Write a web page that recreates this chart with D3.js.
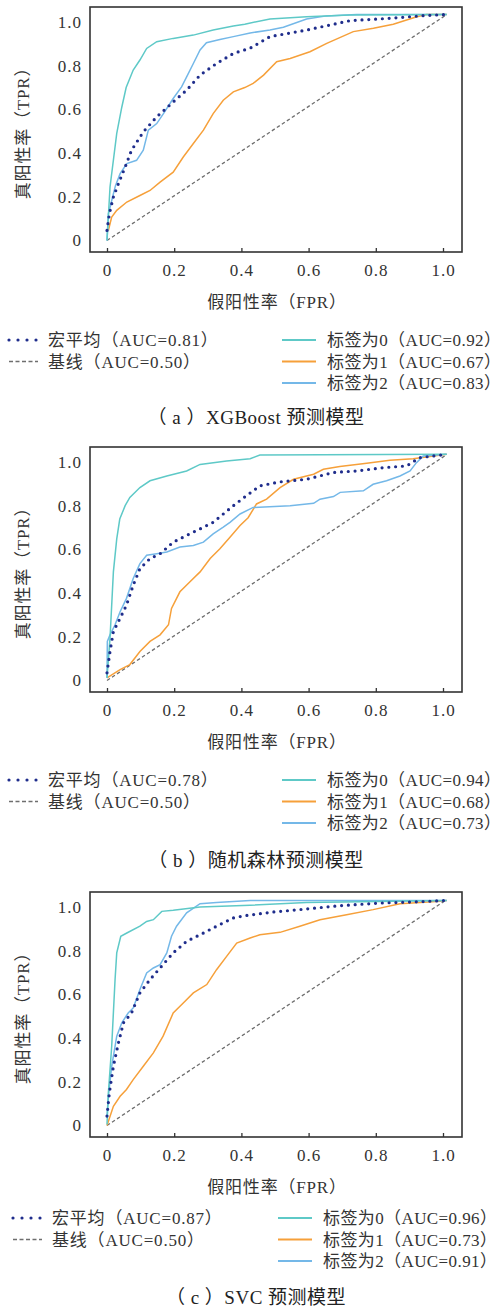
<!DOCTYPE html>
<html>
<head>
<meta charset="utf-8">
<script src="https://cdn.jsdelivr.net/npm/d3@7"></script>
<style>
body { margin: 0; background: #fff; }
svg { display: block; }
</style>
</head>
<body>
<svg id="chart" width="501" height="1309"></svg>
<script>
// axis ticks
var xTicks = [0, 0.2, 0.4, 0.6, 0.8, 1.0];
var yTicks = [0, 0.2, 0.4, 0.6, 0.8, 1.0];
var tickText = ["0", "0.2", "0.4", "0.6", "0.8", "1.0"];

// (a) XGBoost
var xgbLabel0 = [[0,0],[0.009,0.245],[0.029,0.49],[0.044,0.61],[0.057,0.70],[0.078,0.78],[0.098,0.826],[0.118,0.879],[0.148,0.91],[0.197,0.925],[0.257,0.94],[0.316,0.963],[0.376,0.982],[0.41,0.99],[0.485,1.014],[0.594,1.024],[0.723,1.032],[1.011,1.034]];
var xgbLabel1 = [[0.004,0.046],[0.014,0.107],[0.029,0.138],[0.059,0.176],[0.098,0.206],[0.128,0.229],[0.158,0.267],[0.197,0.313],[0.227,0.382],[0.257,0.444],[0.287,0.505],[0.316,0.581],[0.346,0.642],[0.376,0.68],[0.41,0.70],[0.435,0.719],[0.466,0.757],[0.505,0.818],[0.545,0.833],[0.604,0.864],[0.654,0.902],[0.733,0.956],[0.793,0.971],[0.852,0.99],[0.922,1.024],[0.951,1.034],[1.011,1.034]];
var xgbLabel2 = [[0,0],[0.004,0.122],[0.014,0.183],[0.025,0.25],[0.039,0.306],[0.059,0.352],[0.088,0.367],[0.108,0.413],[0.123,0.505],[0.148,0.535],[0.168,0.581],[0.197,0.65],[0.222,0.703],[0.237,0.749],[0.257,0.81],[0.277,0.872],[0.296,0.905],[0.336,0.92],[0.376,0.933],[0.426,0.95],[0.485,0.963],[0.525,0.976],[0.594,1.014],[0.654,1.028],[0.743,1.034],[1.011,1.034]];
var xgbMacro = [[0,0.046],[0.007,0.122],[0.019,0.199],[0.034,0.26],[0.054,0.336],[0.073,0.413],[0.108,0.497],[0.148,0.566],[0.197,0.634],[0.237,0.688],[0.277,0.757],[0.326,0.81],[0.376,0.856],[0.426,0.88],[0.485,0.933],[0.594,0.963],[0.723,1.006],[0.842,1.017],[0.951,1.03],[1.011,1.034]];
var xgbAuc = [0.81, 0.50, 0.92, 0.67, 0.83];

// (b) 随机森林
var rfLabel0 = [[0,0.012],[0.009,0.194],[0.019,0.497],[0.029,0.648],[0.038,0.739],[0.054,0.80],[0.068,0.838],[0.098,0.883],[0.128,0.914],[0.178,0.936],[0.237,0.959],[0.277,0.989],[0.356,1.005],[0.426,1.015],[0.455,1.032],[1.011,1.035]];
var rfLabel1 = [[0,0.012],[0.039,0.05],[0.068,0.073],[0.098,0.133],[0.128,0.179],[0.158,0.209],[0.183,0.255],[0.192,0.33],[0.217,0.406],[0.247,0.452],[0.277,0.497],[0.307,0.558],[0.336,0.603],[0.366,0.656],[0.396,0.709],[0.42,0.745],[0.445,0.808],[0.475,0.83],[0.515,0.883],[0.555,0.921],[0.615,0.944],[0.644,0.967],[0.693,0.979],[0.773,0.994],[0.842,1.008],[0.911,1.015],[1.011,1.035]];
var rfLabel2 = [[0,0.012],[0.001,0.179],[0.009,0.209],[0.024,0.255],[0.039,0.315],[0.058,0.376],[0.078,0.467],[0.098,0.535],[0.118,0.573],[0.148,0.58],[0.178,0.588],[0.217,0.611],[0.257,0.618],[0.287,0.633],[0.316,0.671],[0.346,0.702],[0.366,0.724],[0.396,0.762],[0.435,0.792],[0.545,0.80],[0.615,0.811],[0.634,0.83],[0.674,0.842],[0.694,0.861],[0.763,0.868],[0.792,0.898],[0.832,0.914],[0.872,0.936],[0.902,0.959],[0.921,0.997],[0.941,1.027],[1.011,1.035]];
var rfMacro = [[0,0.035],[0.009,0.133],[0.019,0.224],[0.039,0.285],[0.058,0.345],[0.078,0.436],[0.098,0.512],[0.128,0.558],[0.158,0.58],[0.197,0.633],[0.237,0.664],[0.277,0.694],[0.316,0.724],[0.376,0.80],[0.41,0.84],[0.455,0.891],[0.515,0.909],[0.594,0.921],[0.674,0.952],[0.743,0.959],[0.822,0.974],[0.892,0.982],[0.931,1.02],[1.011,1.035]];
var rfAuc = [0.78, 0.50, 0.94, 0.68, 0.73];

// (c) SVC
var svcLabel0 = [[0,0.005],[0.004,0.149],[0.014,0.363],[0.024,0.668],[0.029,0.79],[0.041,0.866],[0.059,0.881],[0.098,0.912],[0.118,0.934],[0.138,0.942],[0.163,0.98],[0.197,0.985],[0.277,1.0],[0.426,1.008],[0.594,1.021],[1.011,1.03]];
var svcLabel1 = [[0,0],[0.019,0.088],[0.039,0.134],[0.058,0.165],[0.078,0.21],[0.108,0.271],[0.138,0.332],[0.167,0.409],[0.197,0.515],[0.227,0.561],[0.257,0.607],[0.297,0.645],[0.326,0.713],[0.356,0.774],[0.386,0.835],[0.426,0.858],[0.455,0.873],[0.515,0.884],[0.574,0.912],[0.634,0.942],[0.713,0.965],[0.792,0.988],[0.872,1.015],[0.991,1.026],[1.011,1.03]];
var svcLabel2 = [[0,0.043],[0.004,0.134],[0.014,0.271],[0.029,0.409],[0.044,0.47],[0.063,0.515],[0.078,0.538],[0.098,0.622],[0.118,0.698],[0.138,0.721],[0.158,0.736],[0.178,0.79],[0.192,0.866],[0.207,0.912],[0.237,0.973],[0.277,1.015],[0.326,1.021],[0.426,1.03],[1.011,1.03]];
var svcMacro = [[0,0.043],[0.007,0.149],[0.019,0.271],[0.034,0.378],[0.049,0.47],[0.073,0.515],[0.098,0.607],[0.128,0.668],[0.158,0.721],[0.197,0.79],[0.237,0.843],[0.277,0.873],[0.326,0.912],[0.376,0.95],[0.41,0.96],[0.495,0.977],[0.594,0.991],[0.693,1.006],[0.812,1.018],[0.931,1.024],[1.011,1.03]];
var svcAuc = [0.87, 0.50, 0.96, 0.73, 0.91];

// 基线
var baseline = [[0,0],[1.011,1.034]];

var captions = ["（ a ）XGBoost 预测模型", "（ b ）随机森林预测模型", "（ c ）SVC 预测模型"];

var panels = [
    {top: 7, leg: 340, cap: 417, lx: 8, rx: 282, series: [xgbMacro, xgbLabel0, xgbLabel1, xgbLabel2], auc: xgbAuc},
    {top: 447, leg: 780, cap: 860, lx: 8, rx: 282, series: [rfMacro, rfLabel0, rfLabel1, rfLabel2], auc: rfAuc},
    {top: 892, leg: 1218, cap: 1297, lx: 12, rx: 278, series: [svcMacro, svcLabel0, svcLabel1, svcLabel2], auc: svcAuc}
];

var fontFam = '"Liberation Serif", "Times New Roman", "Noto Sans CJK SC", serif';
var cMacro = "#1f2d8c", cBase = "#6e6e6e", c0 = "#5ec9c7", c1 = "#f6a03a", c2 = "#74b8e8";
var svg = d3.select("#chart");

panels.forEach(function(p, i) {
    var g = svg.append("g");
    var x = d3.scaleLinear().domain([0, 1]).range([107, 443]);
    var y = d3.scaleLinear().domain([0, 1]).range([p.top + 233.5, p.top + 15]);
    var line = d3.line().x(function(d) { return x(d[0]); }).y(function(d) { return y(d[1]); });

    // 曲线
    g.append("path").datum(baseline).attr("d", line).attr("fill", "none")
        .attr("stroke", cBase).attr("stroke-width", 1.3).attr("stroke-dasharray", "3.5 2.5");
    g.append("path").datum(p.series[2]).attr("d", line).attr("fill", "none").attr("stroke", c1).attr("stroke-width", 1.5);
    g.append("path").datum(p.series[3]).attr("d", line).attr("fill", "none").attr("stroke", c2).attr("stroke-width", 1.5);
    g.append("path").datum(p.series[1]).attr("d", line).attr("fill", "none").attr("stroke", c0).attr("stroke-width", 1.5);
    g.append("path").datum(p.series[0]).attr("d", line).attr("fill", "none")
        .attr("stroke", cMacro).attr("stroke-width", 3.2).attr("stroke-linecap", "round").attr("stroke-dasharray", "0 6.8");

    // 框
    g.append("rect").attr("x", 90).attr("y", p.top).attr("width", 372).attr("height", 245)
        .attr("fill", "none").attr("stroke", "#333").attr("stroke-width", 1.6);

    var xAxis = g.append("g").attr("transform", "translate(0," + (p.top + 245) + ")")
        .call(d3.axisBottom(x).tickValues(xTicks).tickSize(-4).tickPadding(12)
            .tickFormat(function(d, j) { return tickText[j]; }));
    var yAxis = g.append("g").attr("transform", "translate(90,0)")
        .call(d3.axisLeft(y).tickValues(yTicks).tickSize(0).tickPadding(8)
            .tickFormat(function(d, j) { return tickText[j]; }));
    [xAxis, yAxis].forEach(function(a) {
        a.attr("font-family", fontFam).attr("font-size", 17);
        a.select(".domain").remove();
        a.selectAll("line").attr("stroke", "#333").attr("stroke-width", 1.3);
        a.selectAll("text").attr("fill", "#333").attr("letter-spacing", 1);
    });

    // 轴标题
    g.append("text").attr("x", 277).attr("y", p.top + 301).attr("text-anchor", "middle")
        .attr("font-family", fontFam).attr("font-size", 17).attr("letter-spacing", 0.8).attr("fill", "#333").text("假阳性率（FPR）");
    g.append("text").attr("transform", "translate(29," + (p.top + 122) + ") rotate(-90)").attr("text-anchor", "middle")
        .attr("font-family", fontFam).attr("font-size", 17).attr("letter-spacing", 0.8).attr("fill", "#333").text("真阳性率（TPR）");

    // 图例
    var leftItems = [
        {label: "宏平均（AUC=" + p.auc[0].toFixed(2) + "）", color: cMacro, w: 3.2, dash: "0 9", cap: "round"},
        {label: "基线（AUC=" + p.auc[1].toFixed(2) + "）", color: cBase, w: 1.3, dash: "4 2.5", cap: "butt"}
    ];
    var rightItems = [
        {label: "标签为0（AUC=" + p.auc[2].toFixed(2) + "）", color: c0},
        {label: "标签为1（AUC=" + p.auc[3].toFixed(2) + "）", color: c1},
        {label: "标签为2（AUC=" + p.auc[4].toFixed(2) + "）", color: c2}
    ];
    leftItems.forEach(function(it, k) {
        var yy = p.leg + k * 21.5;
        g.append("line").attr("x1", p.lx + 1).attr("x2", p.lx + 30).attr("y1", yy).attr("y2", yy)
            .attr("stroke", it.color).attr("stroke-width", it.w).attr("stroke-dasharray", it.dash).attr("stroke-linecap", it.cap);
        g.append("text").attr("x", p.lx + 40).attr("y", yy + 6).attr("font-family", fontFam).attr("font-size", 17)
            .attr("letter-spacing", 0.8).attr("fill", "#333").text(it.label);
    });
    rightItems.forEach(function(it, k) {
        var yy = p.leg + k * 21.5;
        g.append("line").attr("x1", p.rx).attr("x2", p.rx + 34).attr("y1", yy).attr("y2", yy)
            .attr("stroke", it.color).attr("stroke-width", 1.8);
        g.append("text").attr("x", p.rx + 45).attr("y", yy + 6).attr("font-family", fontFam).attr("font-size", 17)
            .attr("letter-spacing", 0.4).attr("fill", "#333").text(it.label);
    });

    // 标题
    g.append("text").attr("x", 256).attr("y", p.cap + 7).attr("text-anchor", "middle")
        .attr("font-family", fontFam).attr("font-size", 19).attr("letter-spacing", 0.5).attr("fill", "#222").text(captions[i]);
});
</script>
</body>
</html>
